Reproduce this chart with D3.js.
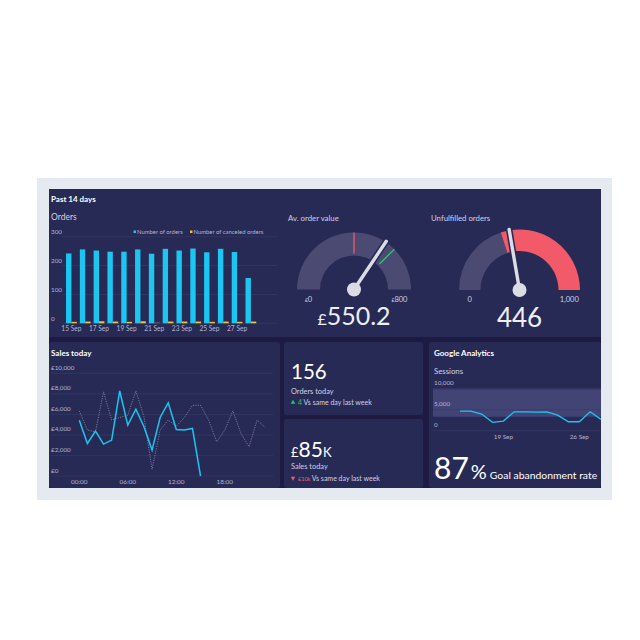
<!DOCTYPE html>
<html><head><meta charset="utf-8">
<script src="https://cdn.jsdelivr.net/npm/d3@7"></script>
<style>
html,body{margin:0;padding:0;background:#fff;}
svg{display:block;font-family:Lato,"Open Sans",sans-serif;}
</style></head>
<body><svg id="c" width="640" height="640"></svg>
<script>
// ---------- DATA ----------
const orderDates = ["15 Sep","16 Sep","17 Sep","18 Sep","19 Sep","20 Sep","21 Sep","22 Sep","23 Sep","24 Sep","25 Sep","26 Sep","27 Sep","28 Sep"];
const ordersCount = [242,256,252,248,248,256,241,258,252,259,246,258,247,157];
const canceledCount = [5,6,7,6,5,7,3,6,6,6,5,6,5,6];
const orderTicks = [0,100,200,300];
const orderLabelDates = ["15 Sep","17 Sep","19 Sep","21 Sep","23 Sep","25 Sep","27 Sep"];

const avOrderValue = 550.2, avOrderMax = 800, avOrderMarker = 400, avOrderTarget = 600;
const unfulfilled = 446, unfulfilledMax = 1000, unfulfilledThreshold = 400;

const salesHours = d3.range(0,24);
const salesToday = [5440,3170,4370,3110,3500,8280,4950,6500,4790,2520,5700,7120,4530,4470,4630,0];
const salesLastWeek = [6340,4470,4300,8190,5440,5700,5920,8280,5760,650,4470,5440,4850,5700,6890,6890,5440,3330,4470,6340,4140,2850,5440,4730];
const salesTicks = [0,2000,4000,6000,8000,10000];
const salesTimeTicks = [0,6,12,18];

const ordersToday = 156, ordersDelta = 4;
const salesTodayK = 85, salesDeltaK = 10;

const sessionDates = ["2023-09-15","2023-09-16","2023-09-17","2023-09-18","2023-09-19","2023-09-20","2023-09-21","2023-09-22","2023-09-23","2023-09-24","2023-09-25","2023-09-26","2023-09-27","2023-09-28"];
const sessions = [4650,4650,3940,1980,2290,4480,4480,4410,4480,3700,2120,2120,4480,2690];
const sessionBand = [3300,9800];
const sessionTicks = [0,5000,10000];
const sessionLabelDates = ["2023-09-19","2023-09-26"];
const goalAbandonment = 87;

// ---------- STYLE ----------
const C = {frame:"#e5eaf0", gap:"#1d1b44", cell:"#282a56", text:"#ffffff", sub:"#d0d1e6", axis:"#b4b5d0",
  grid:"#383a66", cyan:"#1cc6f0", yellow:"#f3c13f", gaugeBg:"#4a4a73", red:"#f25a6a", green:"#27c96a", needle:"#dcdce4"};

const svg = d3.select("#c");
svg.append("rect").attr("x",37).attr("y",178).attr("width",575).attr("height",322).attr("fill",C.frame);
svg.append("rect").attr("x",49).attr("y",189).attr("width",552).attr("height",299).attr("fill",C.gap);

// cells
const cells = [
 {x:49,y:189,w:552,h:148,r:0},
 {x:49,y:342,w:231,h:146,r:3},
 {x:284,y:342,w:139,h:73,r:3},
 {x:284,y:419,w:139,h:69,r:3},
 {x:429,y:342,w:172,h:146,r:3}
];
svg.selectAll("rect.cell").data(cells).join("rect").attr("class","cell")
  .attr("x",d=>d.x).attr("y",d=>d.y).attr("width",d=>d.w).attr("height",d=>d.h).attr("rx",d=>d.r).attr("fill",C.cell);

function txt(x,y,s,size,opts={}){
  return svg.append("text").attr("x",x).attr("y",y).text(s).attr("font-size",size)
    .attr("fill",opts.fill||C.text).attr("font-weight",opts.bold?"700":"400")
    .attr("text-anchor",opts.anchor||"start");
}

// ---------- ORDERS BAR CHART ----------
txt(51,202,"Past 14 days",8,{bold:true});
txt(51,220,"Orders",8.5,{fill:C.sub});
const xO = d3.scaleBand().domain(orderDates).range([64.5,257.8]).paddingInner(0.22).paddingOuter(0.11);
const xO2 = d3.scaleBand().domain(["o","c"]).range([0,xO.bandwidth()]);
const yO = d3.scaleLinear().domain([0,300]).range([323.3,236.7]);
const gO = svg.append("g");
gO.selectAll("line.g").data(orderTicks).join("line").attr("x1",62).attr("x2",277)
  .attr("y1",d=>yO(d)).attr("y2",d=>yO(d)).attr("stroke",C.grid).attr("stroke-width",0.7);
gO.selectAll("text.t").data(orderTicks).join("text").attr("x",51).attr("y",d=>yO(d)-2.5)
  .text(d=>d).attr("font-size",6.3).attr("fill",C.axis);
gO.selectAll("rect.o").data(ordersCount).join("rect").attr("x",(d,i)=>xO(orderDates[i])+xO2("o"))
  .attr("y",d=>yO(d)).attr("width",xO2.bandwidth()).attr("height",d=>yO(0)-yO(d)).attr("fill",C.cyan);
gO.selectAll("rect.c").data(canceledCount).join("rect").attr("x",(d,i)=>xO(orderDates[i])+xO2("c"))
  .attr("y",d=>yO(d)).attr("width",xO2.bandwidth()).attr("height",d=>yO(0)-yO(d))
  .attr("fill",(d,i)=>i===6?"#6b6a6a":C.yellow);
gO.selectAll("text.x").data(orderLabelDates).join("text").attr("x",d=>xO(d)+xO.bandwidth()/2).attr("y",331)
  .attr("text-anchor","middle").text(d=>d).attr("font-size",6.6).attr("fill",C.axis);
// legend
const leg = [{n:"Number of orders",c:C.cyan,x:133.5},{n:"Number of canceled orders",c:C.yellow,x:190}];
leg.forEach(l=>{
  svg.append("rect").attr("x",l.x).attr("y",230.5).attr("width",2.5).attr("height",2.5).attr("fill",l.c);
  txt(l.x+3.5,234,l.n,5.9,{fill:C.axis});
});

// ---------- GAUGES ----------
function gauge(cx,cy,rIn,rOut,max,segments,value,markers,labels){
  const a = d3.scaleLinear().domain([0,max]).range([-Math.PI/2,Math.PI/2]);
  const g = svg.append("g").attr("transform",`translate(${cx},${cy})`);
  const arc = d3.arc().innerRadius(rIn).outerRadius(rOut);
  segments.forEach(s=>g.append("path").attr("d",arc({startAngle:a(s.from),endAngle:a(s.to)})).attr("fill",s.color));
  markers.forEach(m=>{
    const t=a(m.v);
    g.append("line").attr("x1",Math.sin(t)*(rIn+2)).attr("y1",-Math.cos(t)*(rIn+2))
      .attr("x2",Math.sin(t)*rOut).attr("y2",-Math.cos(t)*rOut).attr("stroke",m.color).attr("stroke-width",1.3);
  });
  const t=a(value);
  const nx=Math.sin(t)*(rOut+1), ny=-Math.cos(t)*(rOut+1);
  g.append("line").attr("x1",0).attr("y1",0).attr("x2",nx).attr("y2",ny).attr("stroke",C.cell).attr("stroke-width",6.5).attr("stroke-linecap","round");
  g.append("line").attr("x1",0).attr("y1",0).attr("x2",nx).attr("y2",ny).attr("stroke",C.needle).attr("stroke-width",3.4).attr("stroke-linecap","round");
  g.append("circle").attr("r",7).attr("fill",C.needle);
  const mid=(rIn+rOut)/2;
  labels.forEach((l,i)=>{
    const sx=i===0?-mid:mid;
    const tt=g.append("text").attr("x",sx).attr("y",12).attr("text-anchor","middle").attr("font-size",7.5).attr("fill",C.sub);
    if(l.pre) tt.append("tspan").attr("font-size",5).text(l.pre);
    tt.append("tspan").text(l.t);
  });
  return g;
}
txt(288,221,"Av. order value",7.8,{fill:C.sub});
gauge(354,289.5,34,57,avOrderMax,[{from:0,to:avOrderMax,color:C.gaugeBg}],avOrderValue,
  [{v:avOrderMarker,color:C.red},{v:avOrderTarget,color:C.green}],[{pre:"£",t:"0"},{pre:"£",t:"800"}]);
const t1=svg.append("text").attr("x",354).attr("y",325).attr("text-anchor","middle").attr("fill","#eeeef4");
t1.append("tspan").attr("font-size",16).text("£");
t1.append("tspan").attr("font-size",25).text(d3.format(".1f")(avOrderValue));

txt(431,221,"Unfulfilled orders",7.8,{fill:C.sub});
gauge(519.5,290,39,60.5,unfulfilledMax,[{from:0,to:unfulfilledThreshold,color:C.gaugeBg},{from:unfulfilledThreshold,to:unfulfilledMax,color:C.red}],
  unfulfilled,[],[{t:"0"},{t:d3.format(",")(unfulfilledMax)}]);
svg.append("text").attr("x",519.5).attr("y",327).attr("text-anchor","middle").attr("fill","#eeeef4").attr("font-size",26).text(unfulfilled);

// ---------- SALES TODAY ----------
txt(51,355.5,"Sales today",8,{bold:true});
const xS = d3.scaleLinear().domain([0,24]).range([79.3,273.3]);
const yS = d3.scaleLinear().domain([0,10000]).range([476,373.3]);
const gS = svg.append("g");
gS.selectAll("line").data(salesTicks).join("line").attr("x1",51).attr("x2",273).attr("y1",d=>yS(d)).attr("y2",d=>yS(d))
  .attr("stroke",C.grid).attr("stroke-width",0.7);
gS.selectAll("text.y").data(salesTicks).join("text").attr("x",51).attr("y",d=>yS(d)-3.5)
  .text(d=>"£"+d3.format(",")(d)).attr("font-size",6.3).attr("fill",C.axis);
gS.selectAll("text.x").data(salesTimeTicks).join("text").attr("x",d=>xS(d)).attr("y",484)
  .attr("text-anchor","middle").text(d=>String(d).padStart(2,"0")+":00").attr("font-size",6.5).attr("fill",C.axis);
const lineS = d3.line().x((d,i)=>xS(salesHours[i])).y(d=>yS(d));
gS.append("path").attr("d",lineS(salesLastWeek)).attr("fill","none").attr("stroke","#8d8cab").attr("stroke-width",0.8).attr("stroke-dasharray","1.2,1.2");
gS.append("path").attr("d",lineS(salesToday)).attr("fill","none").attr("stroke",C.cyan).attr("stroke-width",1.5);

// ---------- KPI CELLS ----------
txt(291,379,ordersToday,20.5);
txt(291,393.5,"Orders today",7.4,{fill:C.sub});
svg.append("path").attr("d",d3.symbol(d3.symbolTriangle,9)()).attr("transform","translate(293,402.5)").attr("fill",C.green);
const k1=svg.append("text").attr("x",298).attr("y",404.5).attr("font-size",7).attr("fill",C.sub);
k1.append("tspan").attr("fill",C.green).text(ordersDelta+" ");
k1.append("tspan").text("Vs same day last week");

const k2=svg.append("text").attr("x",291).attr("y",456.5).attr("fill",C.text);
k2.append("tspan").attr("font-size",13).text("£");
k2.append("tspan").attr("font-size",21).text(salesTodayK);
k2.append("tspan").attr("font-size",13).text("K");
txt(291,468.5,"Sales today",7.4,{fill:C.sub});
svg.append("path").attr("d",d3.symbol(d3.symbolTriangle,9)()).attr("transform","translate(293,478) rotate(180)").attr("fill",C.red);
const k3=svg.append("text").attr("x",298).attr("y",480.5).attr("font-size",7).attr("fill",C.sub);
k3.append("tspan").attr("fill",C.red).attr("font-size",5.5).text("£"+salesDeltaK+"k ");
k3.append("tspan").text("Vs same day last week");

// ---------- GOOGLE ANALYTICS ----------
svg.append("clipPath").attr("id","gaclip").append("rect").attr("x",429).attr("y",342).attr("width",172).attr("height",146);
const gG = svg.append("g").attr("clip-path","url(#gaclip)");
const gtxt=(x,y,s,size,o={})=>gG.append("text").attr("x",x).attr("y",y).text(s).attr("font-size",size)
   .attr("fill",o.fill||C.text).attr("font-weight",o.bold?"700":"400");
gtxt(434,356,"Google Analytics",8,{bold:true});
gtxt(434,373.5,"Sessions",7.8,{fill:C.sub});
const parse=d3.timeParse("%Y-%m-%d");
const xG = d3.scaleTime().domain([parse(sessionDates[0]),parse(sessionDates[13])]).range([460,601]);
const yG = d3.scaleLinear().domain([0,10000]).range([430.7,388.5]);
gG.append("rect").attr("x",433).attr("width",170).attr("y",yG(sessionBand[1])).attr("height",yG(sessionBand[0])-yG(sessionBand[1]))
  .attr("fill","#46477a").attr("opacity",0.9);
gG.selectAll("line.g").data(sessionTicks).join("line").attr("x1",433).attr("x2",603).attr("y1",d=>yG(d)).attr("y2",d=>yG(d))
  .attr("stroke",C.grid).attr("stroke-width",0.7);
gG.selectAll("text.y").data(sessionTicks).join("text").attr("x",434).attr("y",d=>yG(d)-3.3)
  .text(d=>d3.format(",")(d)).attr("font-size",6.3).attr("fill",C.axis);
gG.selectAll("text.x").data(sessionLabelDates).join("text").attr("x",d=>xG(parse(d))).attr("y",439)
  .attr("text-anchor","middle").text(d=>d3.timeFormat("%-d %b")(parse(d))).attr("font-size",6.3).attr("fill",C.axis);
gG.append("path").attr("d",d3.line().x((d,i)=>xG(parse(sessionDates[i]))).y(d=>yG(d))(sessions))
  .attr("fill","none").attr("stroke",C.cyan).attr("stroke-width",1.3);
const ga=gG.append("text").attr("x",434).attr("y",478.5).attr("fill",C.text);
ga.append("tspan").attr("font-size",30).text(goalAbandonment);
ga.append("tspan").attr("font-size",20).attr("dx",2).text("%");
ga.append("tspan").attr("font-size",10.4).attr("dx",3).text("Goal abandonment rate");
</script></body></html>
